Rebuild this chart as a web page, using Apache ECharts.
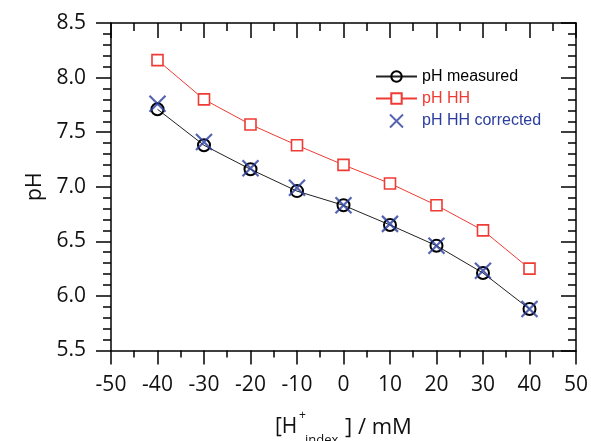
<!DOCTYPE html>
<html>
<head>
<meta charset="utf-8">
<script src="https://cdn.jsdelivr.net/npm/echarts@6/dist/echarts.min.js"></script>
<style>
html,body{margin:0;padding:0;background:#fff;}
#chart{width:591px;height:441px;}
</style>
</head>
<body>
<div id="chart"></div>
<script>
const concentrations = [-40, -30, -20, -10, 0, 10, 20, 30, 40];
const phMeasured = [7.71, 7.38, 7.16, 6.96, 6.83, 6.65, 6.46, 6.21, 5.88];
const phHH = [8.16, 7.80, 7.57, 7.38, 7.20, 7.03, 6.83, 6.60, 6.25];
const phHHCorrected = [7.76, 7.41, 7.17, 6.99, 6.83, 6.66, 6.46, 6.23, 5.88];
const seriesNames = ['pH measured', 'pH HH', 'pH HH corrected'];

const FONT = 'Open Sans';
const BLUE = '#2b3d9e';
const RED = '#ee3b34';

const pair = (ys) => concentrations.map((x, i) => [x, ys[i]]);

const axisBase = {
  axisLine: {show: true, onZero: false, lineStyle: {color: '#000', width: 1.5}},
  splitLine: {show: false}
};

const chart = echarts.init(document.getElementById('chart'));
chart.setOption({
  animation: false,
  backgroundColor: '#fff',
  grid: {left: 111, right: 14.5, top: 23, bottom: 90.5},
  xAxis: [
    Object.assign({}, axisBase, {
      type: 'value', position: 'bottom', min: -50, max: 50, interval: 10,
      axisTick: {show: true, inside: false, length: 14, lineStyle: {color: '#000', width: 1.5}},
      minorTick: {show: true, splitNumber: 2, length: 7, lineStyle: {color: '#000', width: 1.5}},
      axisLabel: {margin: 24, fontFamily: FONT, fontSize: 21, color: '#111'}
    }),
    Object.assign({}, axisBase, {
      type: 'value', position: 'top', min: -50, max: 50, interval: 10,
      axisTick: {show: true, inside: true, length: 15, lineStyle: {color: '#000', width: 1.5}},
      minorTick: {show: true, splitNumber: 2, length: 8, lineStyle: {color: '#000', width: 1.5}},
      axisLabel: {show: false}
    })
  ],
  yAxis: [
    Object.assign({}, axisBase, {
      type: 'value', position: 'left', min: 5.5, max: 8.5, interval: 0.5,
      axisTick: {show: true, inside: false, length: 15, lineStyle: {color: '#000', width: 1.5}},
      minorTick: {show: true, splitNumber: 5, length: 8, lineStyle: {color: '#000', width: 1.5}},
      axisLabel: {margin: 25, fontFamily: FONT, fontSize: 21, color: '#111', formatter: v => v.toFixed(1)},
      name: 'pH', nameLocation: 'middle', nameGap: 61, nameRotate: 90,
      nameTextStyle: {fontFamily: FONT, fontSize: 21, color: '#111'}
    }),
    Object.assign({}, axisBase, {
      type: 'value', position: 'right', min: 5.5, max: 8.5, interval: 0.5,
      axisTick: {show: true, inside: true, length: 15, lineStyle: {color: '#000', width: 1.5}},
      minorTick: {show: true, splitNumber: 5, length: 8, lineStyle: {color: '#000', width: 1.5}},
      axisLabel: {show: false}
    })
  ],
  legend: {
    orient: 'vertical', left: 375, top: 68, padding: 0,
    itemWidth: 41, itemHeight: 13, itemGap: 5,
    textStyle: {fontFamily: 'Liberation Sans', fontSize: 16, lineHeight: 17},
    data: [
      {name: seriesNames[0], textStyle: {color: '#000'}},
      {name: seriesNames[1], textStyle: {color: RED}},
      {name: seriesNames[2], textStyle: {color: BLUE}}
    ]
  },
  series: [
    {
      name: seriesNames[1], type: 'line', data: pair(phHH),
      symbol: 'rect', symbolSize: 11,
      lineStyle: {color: RED, width: 1},
      itemStyle: {color: '#fff', borderColor: RED, borderWidth: 1.6},
      z: 2
    },
    {
      name: seriesNames[0], type: 'line', data: pair(phMeasured),
      symbol: 'circle', symbolSize: 12,
      lineStyle: {color: '#222', width: 1},
      itemStyle: {color: 'rgba(255,255,255,0)', borderColor: '#000', borderWidth: 2},
      z: 3
    },
    {
      name: seriesNames[2], type: 'scatter', data: pair(phHHCorrected),
      symbol: 'path://M0,0L10,10M10,0L0,10', symbolSize: 16,
      itemStyle: {color: 'none', borderColor: BLUE, borderWidth: 2.2},
      z: 4
    }
  ],
  graphic: [
    {type: 'text', left: 275, top: 417, style: {text: '[H', font: '21px "Open Sans"', fill: '#111'}},
    {type: 'text', left: 299, top: 410, style: {text: '+', font: '12px "Open Sans"', fill: '#111'}},
    {type: 'text', left: 305, top: 434, style: {text: 'index', font: '13px "Open Sans"', fill: '#111'}},
    {type: 'text', left: 345, top: 417, style: {text: '] / mM', font: '22px "Open Sans"', fill: '#111'}}
  ]
});
</script>
</body>
</html>
